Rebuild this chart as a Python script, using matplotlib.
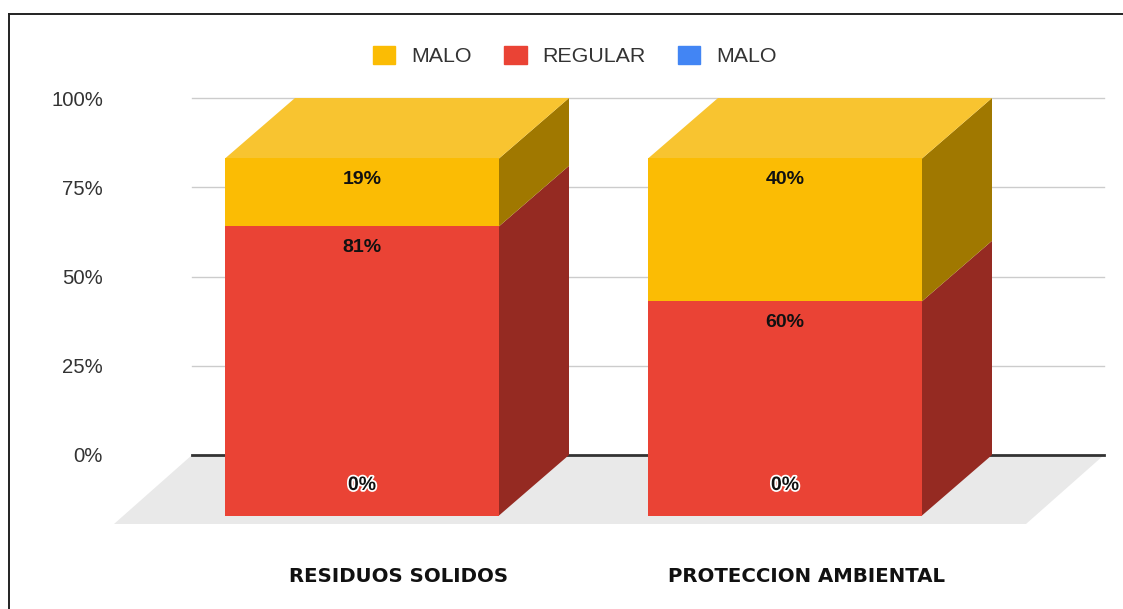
import matplotlib
matplotlib.use("Agg")
import matplotlib.pyplot as plt
import matplotlib.patheffects as pe
from matplotlib.lines import Line2D
from matplotlib.patches import Patch, Polygon

# Datos del grafico
categorias = ["RESIDUOS SOLIDOS", "PROTECCION AMBIENTAL"]
series = ["MALO", "REGULAR", "MALO"]
azul = [0, 0]
rojo = [81, 60]
amarillo = [19, 40]
ticks_y = [0, 25, 50, 75, 100]

# Colores (frente, lado, tapa)
col_amarillo = ("#fbbc04", "#a07800", "#f8c430")
col_rojo = ("#ea4335", "#952a22", "#ea4335")
col_azul = ("#4285f4", "#2a5599", "#4285f4")

W, H = 1123, 609
x0, x1, y0, y1 = 192, 1104, 455, 98  # area del grafico en pixeles
paso = 423  # pixeles entre categorias
xc0 = 432   # centro de la cara trasera de la primera barra

plt.rcParams["font.family"] = "Liberation Sans"
fig = plt.figure(figsize=(W / 100, H / 100), dpi=100)
ax = fig.add_axes([x0 / W, 1 - y0 / H, (x1 - x0) / W, (y0 - y1) / H])
ax.set_xlim((x0 - xc0) / paso, (x1 - xc0) / paso)
ax.set_ylim(0, 100)
ax.patch.set_visible(False)
for s in ax.spines.values():
    s.set_visible(False)

px_y = (y0 - y1) / 100  # pixeles por unidad de %
dx, dy = 70 / paso, 60.5 / px_y  # profundidad de la barra
ancho = 274 / paso
pos = [0, 1]

# Piso
piso_dx, piso_dy = 78 / paso, 69 / px_y
xa, xb = ax.get_xlim()
ax.add_patch(Polygon([(xa, 0), (xb, 0), (xb - piso_dx, -piso_dy), (xa - piso_dx, -piso_dy)],
                     color="#e9e9e9", lw=0, clip_on=False, zorder=1))

# Lineas de fondo
ax.set_yticks(ticks_y, [f"{t}%" for t in ticks_y], fontsize=14.6, color="#333333")
ax.tick_params(axis="y", length=0, pad=64)
ax.set_xticks([])
for t in ticks_y[1:]:
    ax.axhline(t, color="#cccccc", lw=1, zorder=2, clip_on=False)
ax.axhline(0, color="#333333", lw=2, zorder=2, clip_on=False)

# Barras apiladas
for i, p in enumerate(pos):
    izq, der = p - dx - ancho / 2, p - dx + ancho / 2
    base = 0
    for val, cols in [(azul[i], col_azul), (rojo[i], col_rojo), (amarillo[i], col_amarillo)]:
        if val > 0:
            ax.bar(izq + ancho / 2, val, ancho, bottom=base - dy, color=cols[0], lw=0, clip_on=False, zorder=5)
            ax.add_patch(Polygon([(der, base - dy), (der + dx, base), (der + dx, base + val), (der, base + val - dy)],
                                 color=cols[1], lw=0, clip_on=False, zorder=4))
        base += val
    ax.add_patch(Polygon([(izq, base - dy), (der, base - dy), (der + dx, base), (izq + dx, base)],
                         color=col_amarillo[2], lw=0, clip_on=False, zorder=4))

    # Etiquetas de datos
    centro = p - dx
    txt = dict(ha="center", va="center", fontsize=14, fontweight="bold",
               color="#111111", zorder=6)
    ax.text(centro, rojo[i] + amarillo[i] - dy - 21 / px_y, f"{amarillo[i]}%", **txt)
    ax.text(centro, rojo[i] - dy - 21 / px_y, f"{rojo[i]}%", **txt)
    ax.text(centro, azul[i] - dy + 30 / px_y, f"{azul[i]}%",
            path_effects=[pe.withStroke(linewidth=2.5, foreground="white")], **txt)

# Etiquetas de categoria
for cx, nombre in zip([399, 806], categorias):
    fig.text(cx / W, 1 - 576 / H, nombre, ha="center", va="center", family="DejaVu Sans",
             fontsize=14.2, fontweight="bold", color="#111111")

# Leyenda
handles = [Patch(color=col_amarillo[0]), Patch(color=col_rojo[0]), Patch(color=col_azul[0])]
fig.legend(handles, series, ncol=3, loc="center", bbox_to_anchor=(575 / W, 1 - 56 / H),
           frameon=False, fontsize=15.4, handlelength=1.05, handleheight=0.9,
           handletextpad=0.75, columnspacing=1.5, labelcolor="#333333")

# Borde de la imagen
fig.add_artist(Line2D([9 / W, 9 / W], [0, 1 - 14 / H], color="#222222", lw=1.4))
fig.add_artist(Line2D([9 / W, 1], [1 - 14 / H, 1 - 14 / H], color="#222222", lw=1.4))

fig.savefig("out.png", dpi=100)
